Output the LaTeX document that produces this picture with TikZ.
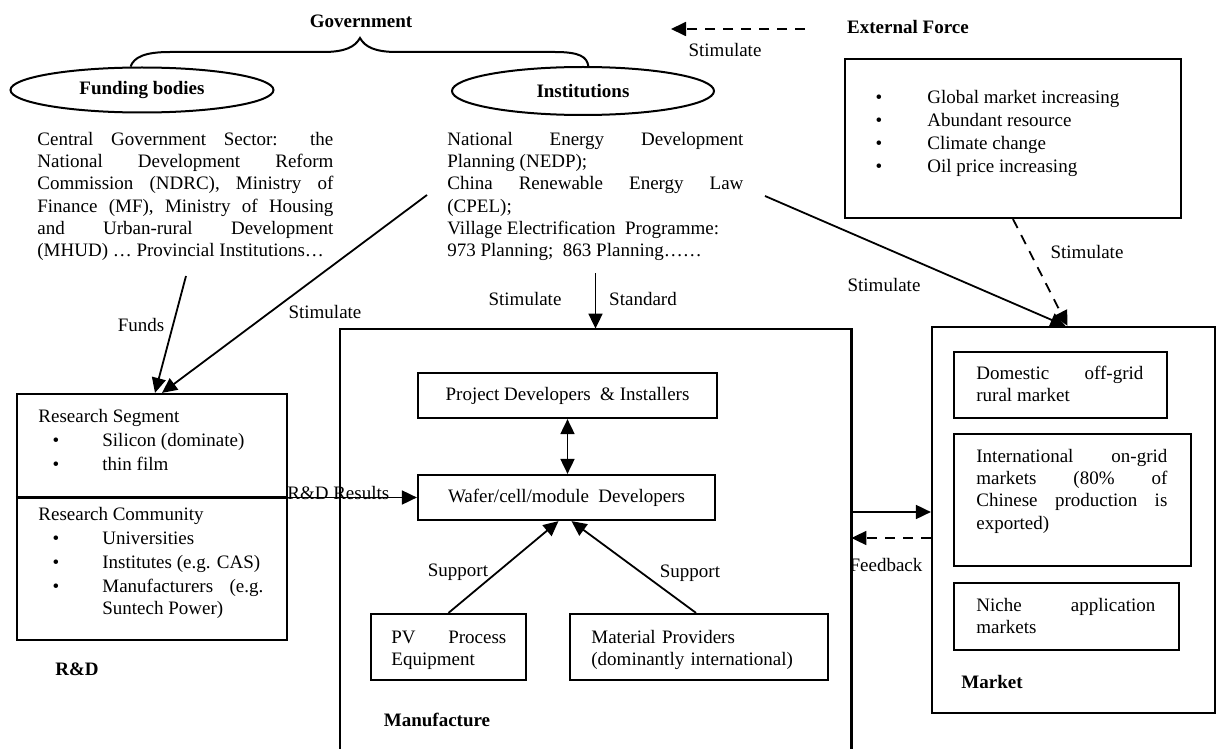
\documentclass[tikz,border=0pt]{standalone}
\usepackage{fontspec}
\setmainfont{Liberation Serif}
\usetikzlibrary{arrows.meta,shapes.geometric}
\setlength{\parindent}{0pt}
\hbadness=10000
\begin{document}
\fontsize{9.5}{11.1}\selectfont
\begin{tikzpicture}[x=0.5pt,y=-0.5pt,
    >={Triangle[length=7.5pt,width=7pt]},
    box/.style={draw, line width=1.1pt, inner sep=0pt},
    oval/.style={draw, ellipse, line width=1pt, inner sep=0pt, font=\bfseries},
    lbl/.style={inner sep=0pt},
    head/.style={inner sep=0pt, font=\bfseries},
    para/.style={anchor=north west, inner sep=0pt, align=justify},
    arr/.style={line width=0.9pt, ->},
    darr/.style={arr, dash pattern=on 5pt off 4pt},
    dbl/.style={line width=0.9pt, <->}]
    \useasboundingbox (0,0) rectangle (1217,749);
    % government
    \node[head] (gov) at (361,21) {Government};
    \node[oval, minimum width=131.5pt, minimum height=22.5pt] (fund) at (142,90) {Funding bodies};
    \node[oval, minimum width=131pt, minimum height=24pt] (inst) at (583,91) {Institutions};
    \coordinate (peak) at (360,38);
    \draw[line width=1pt] (fund.116) .. controls (134,57) and (145,52) .. (170,52) -- (323,52)
        .. controls (345,52) and (355,47) .. (peak) .. controls (365,47) and (375,52) .. (397,52)
        -- (555,52) .. controls (580,52) and (587,57) .. (inst.78);
    \node[para, text width=148pt] (fundtxt) at (37,129.5) {\strut Central Government Sector: the\linebreak
        National Development Reform\linebreak Commission (NDRC), Ministry of\linebreak
        Finance (MF), Ministry of Housing\linebreak and Urban-rural Development\linebreak
        (MHUD) … Provincial Institutions…};
    \node[para, text width=148pt] (insttxt) at (447,129.5) {\strut National Energy Development\linebreak
        Planning (NEDP);\newline China Renewable Energy Law\linebreak (CPEL);\newline
        Village Electrification\ \ Programme:\newline 973 Planning;\ \ 863 Planning……};
    % external force
    \node[head] (extlbl) at (908,27) {External Force};
    \node[box, minimum width=168pt, minimum height=79.5pt] (extbox) at (1013,138.5) {};
    \foreach \t [count=\i] in {Global market increasing, Abundant resource, Climate change, Oil price increasing} {
        \node[lbl, anchor=base] (extb\i) at (879,81+23*\i) {\textbullet};
        \node[lbl, anchor=base west] (ext\i) at (927,81+23*\i) {\t};
    }
    \node[lbl] (stim0) at (725,50) {Stimulate};
    \coordinate (extfrom) at (805,29);
    \coordinate (extto) at (671,29);
    \draw[darr] (extfrom) -- (extto);
    % manufacture
    \node[inner sep=0pt, minimum width=255.5pt, minimum height=210pt] (manbox) at (595.5,539) {};
    \draw[line width=1.1pt] (manbox.south west) |- (manbox.north east) -- (manbox.south east);
    \node[box, minimum width=149.5pt, minimum height=22.5pt] (proj) at (567.5,395.5) {Project Developers\ \ \& Installers};
    \node[box, minimum width=148.5pt, minimum height=22.5pt] (wafer) at (566.5,497.5) {Wafer/cell/module\ \ Developers};
    \node[box, minimum width=77.5pt, minimum height=33pt] (pv) at (448.5,647) {};
    \node[para, text width=57.5pt] (pvtxt) at (391,627.5) {\strut PV Process\linebreak Equipment};
    \node[box, minimum width=129pt, minimum height=33pt] (mat) at (699,647) {};
    \node[para, align=left, text width=110pt] (mattxt) at (591,627.5) {\strut Material Providers\\ (dominantly international)};
    \node[head] (manlbl) at (437,720) {Manufacture};
    \draw[dbl] (proj.south) -- (proj.south |- wafer.north);
    \draw[arr] (pv.north) -- ([xshift=-4pt]wafer.south);
    \draw[arr] ([xshift=-1.5pt]mat.north) -- ([xshift=2.5pt]wafer.south);
    \node[lbl] (sup1) at (458,572) {Support};
    \node[lbl] (sup2) at (690,573) {Support};
    % r&d
    \node[box, minimum width=135pt, minimum height=123pt] (rdbox) at (152,517) {};
    \draw[line width=1.1pt] (rdbox.west |- wafer.west) -- (rdbox.east |- wafer.west);
    \node[lbl, anchor=base west] (seg) at (38,422) {Research Segment};
    \foreach \y/\t [count=\i] in {446/Silicon (dominate), 470/thin film} {
        \node[lbl, anchor=base] (segb\i) at (56,\y) {\textbullet};
        \node[lbl, anchor=base west] (seg\i) at (102,\y) {\t};
    }
    \node[lbl, anchor=base west] (com) at (38,520) {Research Community};
    \foreach \y/\t [count=\i] in {544/Universities, 568/Institutes (e.g. CAS)} {
        \node[lbl, anchor=base] (comb\i) at (56,\y) {\textbullet};
        \node[lbl, anchor=base west] (com\i) at (102,\y) {\t};
    }
    \node[lbl, anchor=base] (comb3) at (56,592) {\textbullet};
    \node[para, text width=80.5pt] (com3) at (102,576.5) {\strut Manufacturers (e.g.\linebreak Suntech Power)};
    \node[head] (rdlbl) at (77,669) {R\&D};
    \draw[arr] (rdbox.east |- wafer.west) -- (wafer.west);
    \node[lbl, anchor=base west] (rdres) at (287,499) {R\&D Results};
    % market
    \node[box, minimum width=141.5pt, minimum height=193pt] (mktbox) at (1073.5,520) {};
    \node[box, minimum width=106.5pt, minimum height=33pt] (dom) at (1060.5,385) {};
    \node[para, text width=83.5pt] (domtxt) at (976,363.5) {\strut Domestic off-grid\linebreak rural market};
    \node[box, minimum width=118.5pt, minimum height=66pt] (intl) at (1072.5,500) {};
    \node[para, text width=95.5pt] (intltxt) at (976,446.5) {\strut International on-grid\linebreak
        markets (80\% of\linebreak Chinese production is\linebreak exported)};
    \node[box, minimum width=112.5pt, minimum height=33.5pt] (niche) at (1066.5,616.5) {};
    \node[para, text width=89.5pt] (nichetxt) at (976,595.5) {\strut Niche application\linebreak markets};
    \node[head] (mktlbl) at (992,682) {Market};
    \coordinate (tomkt) at (0,512);
    \coordinate (frommkt) at (0,538);
    \draw[arr] (manbox.east |- tomkt) -- (mktbox.west |- tomkt);
    \draw[darr] (mktbox.west |- frommkt) -- (manbox.east |- frommkt);
    \node[lbl] (fblbl) at (886,565) {Feedback};
    % stimulate arrows
    \coordinate (fundsfrom) at (186,276);
    \draw[arr] (fundsfrom) -- ([xshift=1.5pt]rdbox.north);
    \node[lbl] (fundslbl) at (141,325) {Funds};
    \coordinate (stimfrom) at (427,195);
    \draw[arr] (stimfrom) -- ([xshift=5pt]rdbox.north);
    \node[lbl] (stim1) at (325,312) {Stimulate};
    \coordinate (stdfrom) at (595.5,273);
    \draw[arr] (stdfrom) -- (manbox.north);
    \node[lbl] (stim2) at (525,299) {Stimulate};
    \node[lbl] (stdlbl) at (643,299) {Standard};
    \coordinate (mktfrom) at (765,196);
    \draw[arr] (mktfrom) -- ([xshift=-4pt]mktbox.north);
    \node[lbl] (stim3) at (884,285) {Stimulate};
    \draw[darr] (extbox.south) -- ([xshift=-3pt]mktbox.north);
    \node[lbl] (stim4) at (1087,252) {Stimulate};
\end{tikzpicture}
\end{document}
